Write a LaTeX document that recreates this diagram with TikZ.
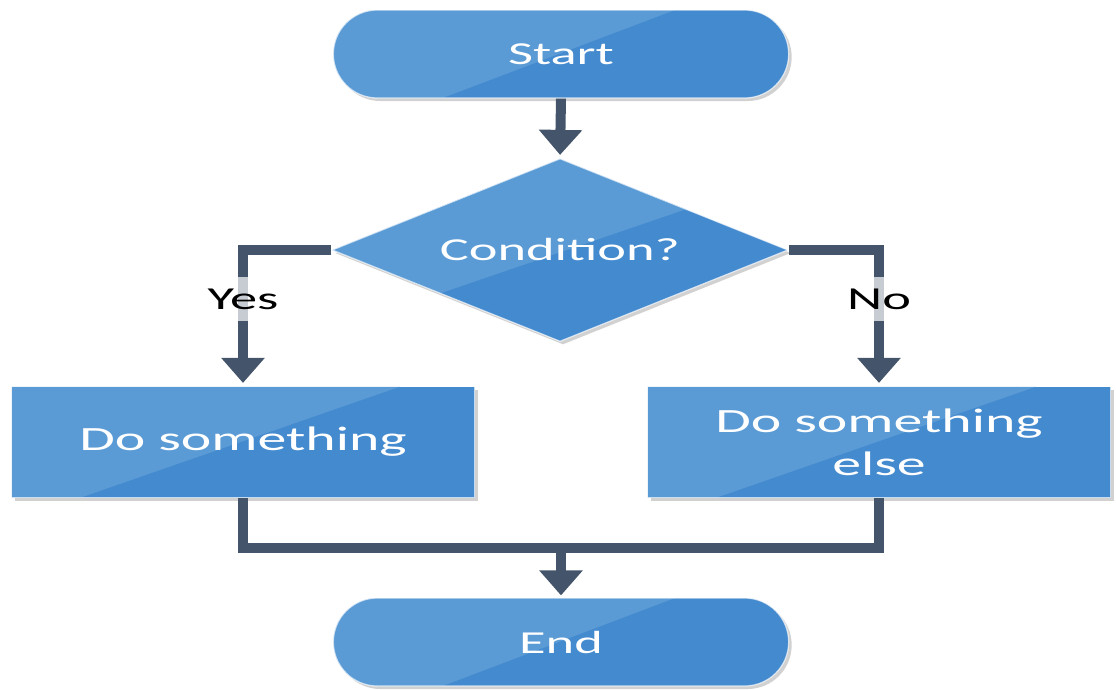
\documentclass[tikz,border=0pt]{standalone}
\usepackage{fontspec}
\setmainfont{Carlito}
\usetikzlibrary{shapes.geometric,shapes.misc,arrows.meta,shadows,calc}
\definecolor{peterriver}{RGB}{91, 155, 213}
\definecolor{belizehole}{RGB}{68, 138, 207}
\definecolor{wetasphalt}{RGB}{68, 84, 106}
\newcommand{\wide}[1]{\scalebox{1.7}[1]{#1}}
\tikzset{
  flat/.style 2 args={fill=belizehole, draw=white, draw opacity=0.7, line width=1.2pt, text=white,
    font=\fontsize{32}{42}\selectfont,
    drop shadow={shadow xshift=3pt, shadow yshift=-3pt, fill=black!30, opacity=0.6},
    path picture={\fill[peterriver] ($(path picture bounding box.south west)!#1!(path picture bounding box.south east)$)
        -- (path picture bounding box.south west) -- (path picture bounding box.north west)
        -- ($(path picture bounding box.north west)!#2!(path picture bounding box.north east)$) -- cycle;}},
  terminal/.style={flat={0.24}{0.75}, shape=rounded rectangle, minimum width=462pt, minimum height=88pt},
  decision/.style={flat={-0.07}{1.1}, shape=diamond, aspect=2.5, inner sep=0pt, minimum width=456pt, minimum height=183pt},
  process/.style={flat={0.15}{0.84}, shape=rectangle, minimum width=463pt, minimum height=111pt, align=center,
    font=\fontsize{34}{43}\selectfont},
  flowline/.style={draw=wetasphalt, line width=10pt, -{Triangle[width=42pt, length=25pt]}},
  branch/.style={fill=white, fill opacity=0.7, text opacity=1, text=black, font=\fontsize{32}{42}\selectfont,
    inner sep=2pt, minimum height=44pt}
}
\begin{document}
\begin{tikzpicture}[x=1pt, y=-1pt]
    \useasboundingbox (0,0) rectangle (1116,689);
    \node[terminal] (start)  at (561, 54)  {\wide{Start}};
    \node[decision] (cond)   at (560,250)  {\wide{Condition?}};
    \node[process]  (doit)   at (243,442)  {\wide{Do something}};
    \node[process]  (doelse) at (879,442)  {\wide{Do something}\\\wide{else}};
    \node[terminal] (finish) at (561,642)  {\wide{End}};
    \coordinate     (merge)  at (561,548);

    \draw[flowline, shorten >=3pt] (start.south) -- (cond.north);
    \draw[flowline, shorten >=3pt] (cond.west) -| node[branch, pos=0.68] {\wide{Yes}} (doit.north);
    \draw[flowline, shorten >=3pt] (cond.east) -| node[branch, pos=0.68] {\wide{No}}  (doelse.north);
    \draw[wetasphalt, line width=10pt] (doit.south) |- (merge) -| (doelse.south);
    \draw[flowline, shorten >=2pt] (merge) -- (finish.north);
\end{tikzpicture}
\end{document}
